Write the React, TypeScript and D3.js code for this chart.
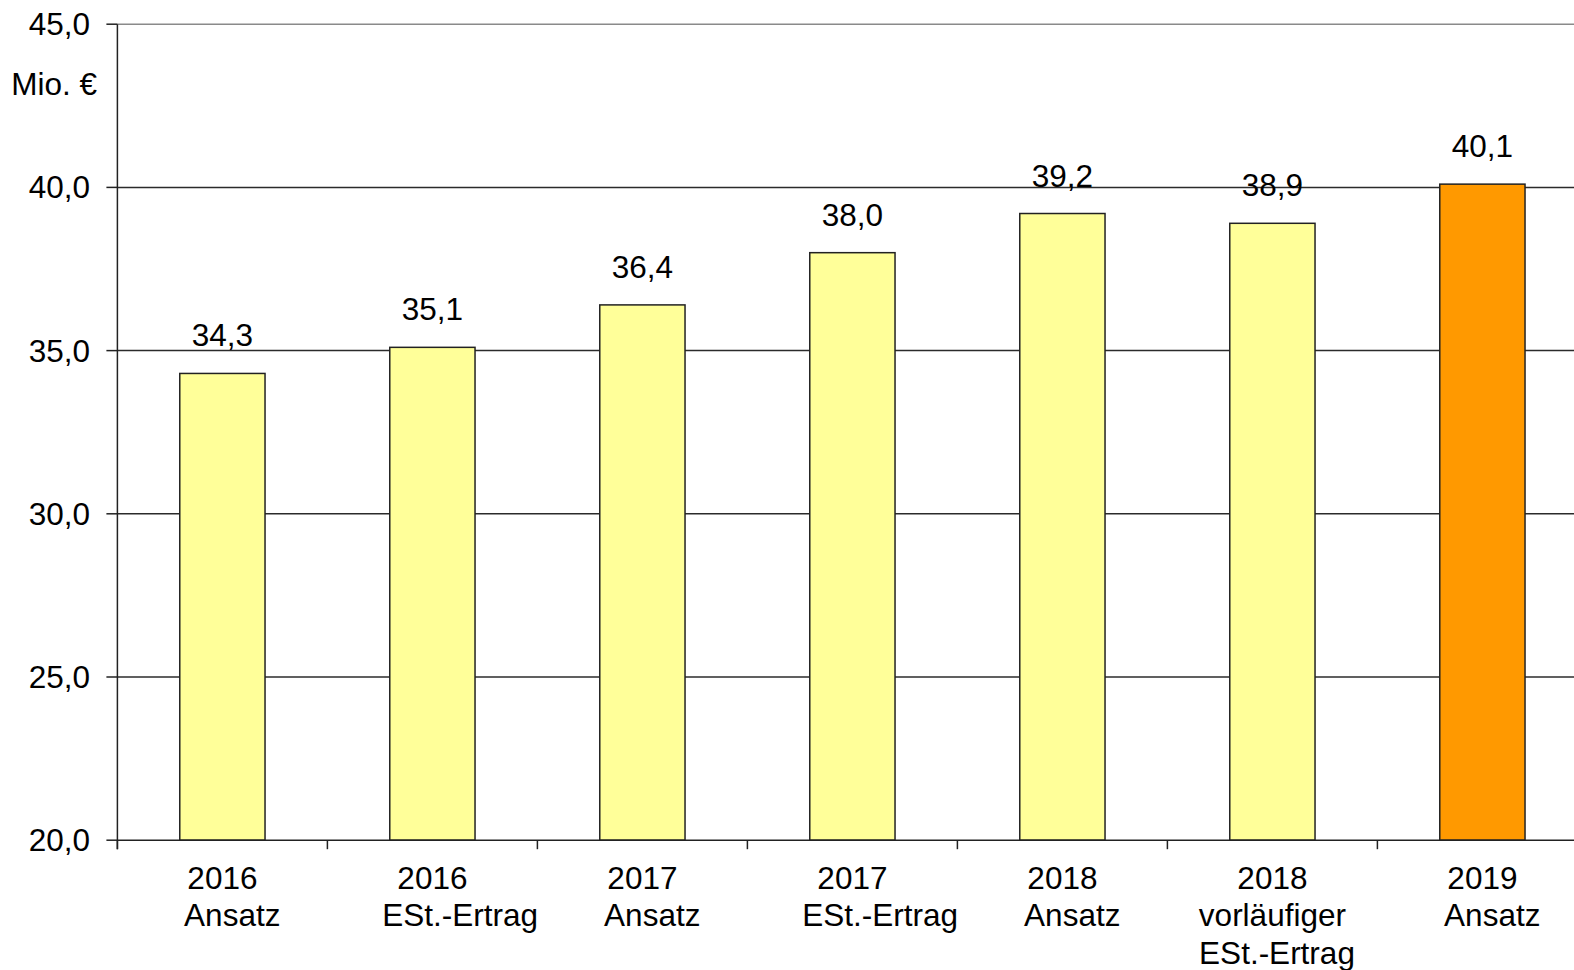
import React, { useEffect, useRef } from "react";
import * as d3 from "d3";

const categories: string[][] = [
  ["2016", "Ansatz"],
  ["2016", "ESt.-Ertrag"],
  ["2017", "Ansatz"],
  ["2017", "ESt.-Ertrag"],
  ["2018", "Ansatz"],
  ["2018", "vorläufiger", "ESt.-Ertrag"],
  ["2019", "Ansatz"],
];
const values: number[] = [34.3, 35.1, 36.4, 38.0, 39.2, 38.9, 40.1];
const highlight: boolean[] = [false, false, false, false, false, false, true];
const yTicks: number[] = [20, 25, 30, 35, 40, 45];
const unitLabel = "Mio. €";

const W = 1574;
const H = 970;
const FONT = "'Liberation Sans', Arial, sans-serif";
const FS = 31.5;

export default function App() {
  const ref = useRef<SVGSVGElement | null>(null);

  useEffect(() => {
    const svg = d3.select(ref.current);
    svg.selectAll("*").remove();

    const left = 117.4;
    const step = 210;
    const x = d3
      .scaleBand<number>()
      .domain(values.map((_, i) => i))
      .range([left, left + step * values.length])
      .paddingInner(0.594)
      .paddingOuter(0.297);
    const y = d3.scaleLinear().domain([20, 45]).range([840.2, 24.2]);
    const fmt = (v: number) => v.toFixed(1).replace(".", ",");

    // gridlines
    svg
      .append("g")
      .selectAll("line")
      .data(yTicks.filter((t) => t > 20))
      .join("line")
      .attr("x1", left)
      .attr("x2", W)
      .attr("y1", (d) => y(d))
      .attr("y2", (d) => y(d))
      .attr("stroke", (d) => (d === 45 ? "#8a8a8a" : "#2b2b2b"))
      .attr("stroke-width", 1.5);

    // bars
    svg
      .append("g")
      .selectAll("rect")
      .data(values)
      .join("rect")
      .attr("x", (_, i) => x(i)!)
      .attr("width", x.bandwidth())
      .attr("y", (d) => y(d))
      .attr("height", (d) => y(20) - y(d))
      .attr("fill", (_, i) => (highlight[i] ? "#FF9900" : "#FFFF99"))
      .attr("stroke", "#222")
      .attr("stroke-width", 1.5);

    // axes lines
    svg
      .append("line")
      .attr("x1", left)
      .attr("x2", left)
      .attr("y1", y(45))
      .attr("y2", y(20) + 9)
      .attr("stroke", "#222")
      .attr("stroke-width", 1.5);
    svg
      .append("line")
      .attr("x1", left)
      .attr("x2", W)
      .attr("y1", y(20))
      .attr("y2", y(20))
      .attr("stroke", "#222")
      .attr("stroke-width", 1.5);

    // y ticks
    const yt = svg.append("g");
    yt.selectAll("line")
      .data(yTicks)
      .join("line")
      .attr("x1", left - 11)
      .attr("x2", left)
      .attr("y1", (d) => y(d))
      .attr("y2", (d) => y(d))
      .attr("stroke", "#222")
      .attr("stroke-width", 1.5);
    yt.selectAll("text")
      .data(yTicks)
      .join("text")
      .attr("x", 90)
      .attr("y", (d) => y(d))
      .attr("dy", "0.35em")
      .attr("text-anchor", "end")
      .attr("font-family", FONT)
      .attr("font-size", FS)
      .attr("fill", "#000")
      .text((d) => fmt(d));

    svg
      .append("text")
      .attr("x", 97)
      .attr("y", 84)
      .attr("dy", "0.35em")
      .attr("text-anchor", "end")
      .attr("font-family", FONT)
      .attr("font-size", FS)
      .text(unitLabel);

    // x ticks at band boundaries
    svg
      .append("g")
      .selectAll("line")
      .data(d3.range(values.length))
      .join("line")
      .attr("x1", (i) => left + i * x.step())
      .attr("x2", (i) => left + i * x.step())
      .attr("y1", y(20))
      .attr("y2", y(20) + 9)
      .attr("stroke", "#222")
      .attr("stroke-width", 1.5);

    // value labels
    svg
      .append("g")
      .selectAll("text")
      .data(values)
      .join("text")
      .attr("x", (_, i) => x(i)! + x.bandwidth() / 2)
      .attr("y", (d) => y(d) - 27)
      .attr("text-anchor", "middle")
      .attr("font-family", FONT)
      .attr("font-size", FS)
      .text((d) => fmt(d));

    // category labels
    const cg = svg.append("g");
    categories.forEach((lines, i) => {
      const cx = x(i)! + x.bandwidth() / 2;
      const nodes: SVGTextElement[] = [];
      lines.forEach((ln, j) => {
        const t = cg
          .append("text")
          .attr("x", cx)
          .attr("y", 888.5 + j * 37.6)
          .attr("text-anchor", "middle")
          .attr("font-family", FONT)
          .attr("font-size", FS)
          .text(ln);
        nodes.push(t.node() as SVGTextElement);
      });
      if (nodes.length > 1) {
        const last = nodes[nodes.length - 1];
        const prevW = Math.max(
          ...nodes.slice(0, -1).map((n) => n.getComputedTextLength())
        );
        const shift = (last.getComputedTextLength() - prevW) * 0.3 + 2;
        d3.select(last).attr("x", cx + shift);
      }
    });
  }, []);

  return (
    <svg
      ref={ref}
      width={W}
      height={H}
      style={{ position: "absolute", left: 0, top: 0, background: "#fff", overflow: "hidden" }}
    />
  );
}
